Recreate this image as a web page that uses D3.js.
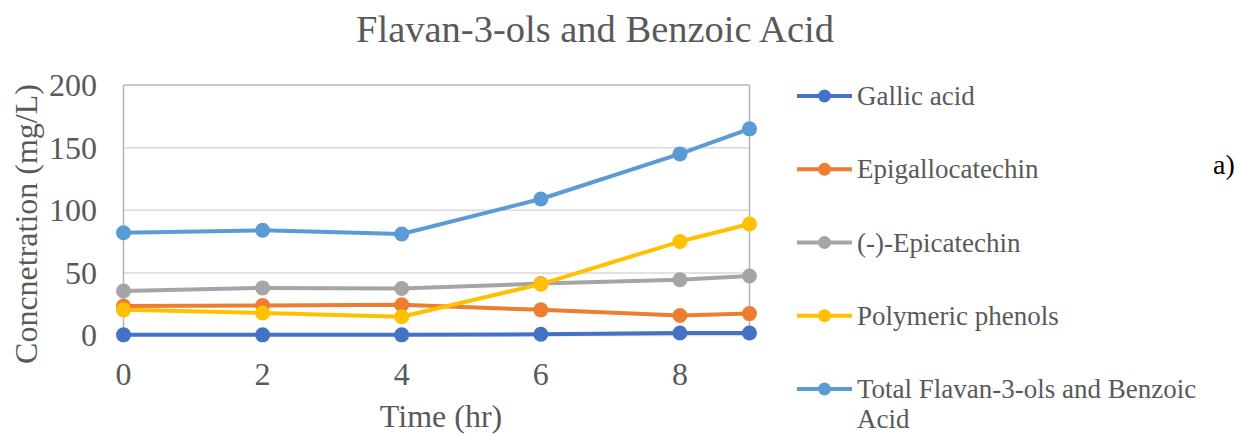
<!DOCTYPE html>
<html>
<head>
<meta charset="utf-8">
<script src="https://cdn.jsdelivr.net/npm/d3@7"></script>
<style>
  body { margin: 0; background: #fff; }
  text { font-family: "Liberation Serif", "Times New Roman", serif; }
</style>
</head>
<body>
<div id="chart"></div>
<script>
var width = 1239,
    height = 434;

// data
var times = [0, 2, 4, 6, 8, 9];
var xTicks = [0, 2, 4, 6, 8];
var yTicks = [0, 50, 100, 150, 200];
var seriesNames = ["Gallic acid", "Epigallocatechin", "(-)-Epicatechin", "Polymeric phenols", "Total Flavan-3-ols and Benzoic Acid"];
var gallic = [0.5, 0.5, 0.5, 1, 2, 2];
var epigallo = [23.5, 24, 24.5, 20.5, 16, 17.5];
var epicat = [35.5, 38, 37.5, 41.5, 44.5, 47.5];
var polymeric = [20.5, 18, 15, 41, 75, 89];
var total = [82, 84, 81, 109, 145, 165];
var colors = ["#4472c4", "#ed7d31", "#a5a5a5", "#ffc000", "#5b9bd5"];

var allSeries = [gallic, epigallo, epicat, polymeric, total];

var svg = d3.select("#chart").append("svg")
  .attr("width", width)
  .attr("height", height);

var x = d3.scaleLinear().domain([0, 9]).range([123.5, 749.5]);
var y = d3.scaleLinear().domain([0, 200]).range([335.5, 85]);

// grid lines
svg.append("g")
  .selectAll("line")
  .data(yTicks.filter(function(d){ return d > 0 && d < 200; }))
  .enter().append("line")
  .attr("x1", x(0)).attr("x2", x(9))
  .attr("y1", function(d){ return y(d); })
  .attr("y2", function(d){ return y(d); })
  .style("stroke", "#d9d9d9")
  .style("stroke-width", 1.5);

// frame: top, left, right, bottom
var frame = svg.append("g").style("stroke", "#b4b4b4").style("stroke-width", 1.5);
frame.append("line").attr("x1", x(0)).attr("x2", x(9)).attr("y1", y(200)).attr("y2", y(200));
frame.append("line").attr("x1", x(0)).attr("x2", x(0)).attr("y1", y(200)).attr("y2", y(0));
frame.append("line").attr("x1", x(9)).attr("x2", x(9)).attr("y1", y(200)).attr("y2", y(0));
frame.append("line").attr("x1", x(0)).attr("x2", x(9)).attr("y1", y(0)).attr("y2", y(0)).style("stroke", "#d9d9d9");

// tick labels
svg.append("g")
  .selectAll("text")
  .data(yTicks)
  .enter().append("text")
  .attr("x", 97)
  .attr("y", function(d){ return y(d); })
  .attr("dy", "0.34em")
  .attr("text-anchor", "end")
  .style("font-size", "32px")
  .style("fill", "#595959")
  .text(function(d){ return d; });

svg.append("g")
  .selectAll("text")
  .data(xTicks)
  .enter().append("text")
  .attr("x", function(d){ return x(d); })
  .attr("y", 385)
  .attr("text-anchor", "middle")
  .style("font-size", "32px")
  .style("fill", "#595959")
  .text(function(d){ return d; });

// axis titles
svg.append("text")
  .attr("x", 441)
  .attr("y", 427)
  .attr("text-anchor", "middle")
  .style("font-size", "32px")
  .style("fill", "#595959")
  .text("Time (hr)");

svg.append("text")
  .attr("transform", "translate(37,224) rotate(-90)")
  .attr("text-anchor", "middle")
  .style("font-size", "32px")
  .style("fill", "#595959")
  .text("Concnetration (mg/L)");

// title
svg.append("text")
  .attr("x", 595)
  .attr("y", 42)
  .attr("text-anchor", "middle")
  .style("font-size", "38.5px")
  .style("fill", "#595959")
  .text("Flavan-3-ols and Benzoic Acid");

// lines + markers
var line = d3.line()
  .x(function(d, i){ return x(times[i]); })
  .y(function(d){ return y(d); });

allSeries.forEach(function(vals, s) {
  svg.append("path")
    .datum(vals)
    .attr("d", line)
    .style("fill", "none")
    .style("stroke", colors[s])
    .style("stroke-width", 4)
    .style("stroke-linejoin", "round");

  svg.append("g")
    .selectAll("circle")
    .data(vals)
    .enter().append("circle")
    .attr("cx", function(d, i){ return x(times[i]); })
    .attr("cy", function(d){ return y(d); })
    .attr("r", 7.5)
    .style("fill", colors[s]);
});

// legend
var legend = svg.append("g");
seriesNames.forEach(function(name, i) {
  var ly = 96 + i * 73.25;
  var g = legend.append("g").attr("transform", "translate(0," + ly + ")");
  g.append("line")
    .attr("x1", 797).attr("x2", 852)
    .attr("y1", 0).attr("y2", 0)
    .style("stroke", colors[i])
    .style("stroke-width", 4);
  g.append("circle")
    .attr("cx", 824.5).attr("cy", 0).attr("r", 6.5)
    .style("fill", colors[i]);
  // long name wraps like the original
  var words = name.split(" ");
  var lines = name.length > 30 ? [words.slice(0, -1).join(" "), words[words.length - 1]] : [name];
  lines.forEach(function(txt, k) {
    g.append("text")
      .attr("x", 857)
      .attr("y", 9 + k * 30)
      .style("font-size", "27px")
      .style("fill", "#595959")
      .text(txt);
  });
});

// panel label
svg.append("text")
  .attr("x", 1213)
  .attr("y", 174)
  .style("font-size", "28px")
  .style("fill", "#000")
  .text("a)");
</script>
</body>
</html>
